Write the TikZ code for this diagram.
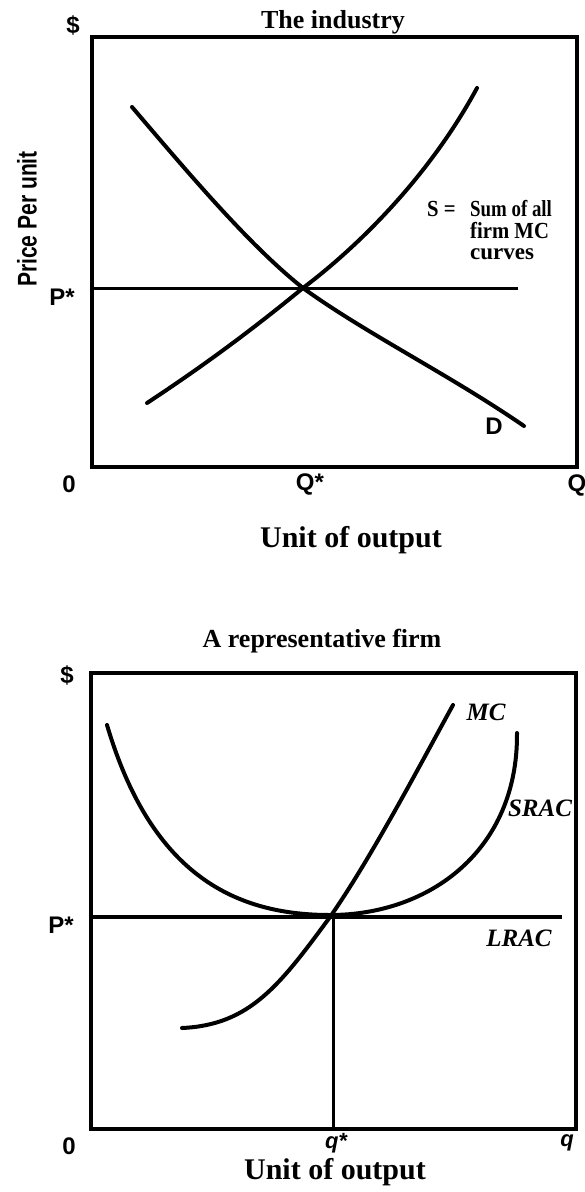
\documentclass[tikz,border=0pt]{standalone}
\usepackage{fontspec}
\setmainfont{Liberation Serif}
\newfontfamily\lsans{Liberation Sans}
\begin{document}
\begin{tikzpicture}[x=1pt,y=-1pt,
  frame/.style={line width=3.5pt, line join=miter},
  curve/.style={line width=4pt, line cap=round},
  hline/.style={line width=3pt},
  ttl/.style={font=\fontsize{26}{28}\selectfont\bfseries, anchor=base, inner sep=0pt},
  axlab/.style={font=\fontsize{30}{32}\selectfont\bfseries, anchor=base, inner sep=0pt},
  tick/.style={font=\lsans\bfseries\fontsize{24}{26}\selectfont, inner sep=0pt},
  itick/.style={font=\lsans\bfseries\itshape\fontsize{22}{24}\selectfont, inner sep=0pt},
  itl/.style={font=\fontsize{25}{27}\selectfont\bfseries\itshape, inner sep=0pt},
  slab/.style={font=\fontsize{23}{23}\selectfont\bfseries, anchor=base west, inner sep=0pt}]
\useasboundingbox[fill=white] (0,0) rectangle (585,1192);

% ---------------- top panel: the industry ----------------
\node[ttl] (title1) at (333,28) {The industry};
\node[tick] (dollar1) at (73,25) {\$};
\node[inner sep=0pt, rotate=90, font=\lsans\bfseries\fontsize{27}{29}\selectfont] (ylab) at (27,219) {\scalebox{0.78}[1]{Price Per unit}};
\node[tick] (pstar1) at (62,297) {P*};
\draw[frame] (92,37) rectangle (577,467);
\draw[hline] (92,288) -- (518,288);
% demand
\draw[curve] (132,107) .. controls (190,175) and (250,246) .. (303,288)
                       .. controls (365,333) and (450,375) .. (524,426);
% supply
\draw[curve] (147,403) .. controls (220,355) and (270,315) .. (303,288)
                       .. controls (360,245) and (430,175) .. (477,88);
\node[slab] (seq) at (427,216) {\scalebox{0.9}[1]{S =}};
\node[slab] (slabel) at (470,216) {\scalebox{0.82}[1]{Sum of all}};
\node[slab] (slabel2) at (470,238) {\scalebox{0.9}[1]{firm MC}};
\node[slab] (slabel3) at (470,259) {curves};
\node[tick] (dlab) at (494,426) {D};
\node[tick] (zero1) at (69,484) {0};
\node[tick] (qstar1) at (310,484) {Q*};
\node[tick] (q1) at (577,485) {Q};
\node[axlab] (unit1) at (351,547) {Unit of output};

% ---------------- bottom panel: representative firm ----------------
\node[ttl] (title2) at (322,647) {A representative firm};
\node[tick] (dollar2) at (67,675) {\$};
\draw[frame] (91,673) rectangle (576,1129);
\draw[line width=4pt] (92,917) -- (562,917);
\node[tick] (pstar2) at (61,925) {P*};
% SRAC
\draw[curve] (107,725) .. controls (150,870) and (230,915) .. (330,915)
                       .. controls (430,915) and (518,850) .. (517,733);
% MC
\draw[curve] (182,1028) .. controls (250,1025) and (280,985) .. (330,917)
                        .. controls (370,860) and (420,765) .. (453,705);
\draw[line width=3pt] (333,917) -- (333,1129);
\node[itl] (mclab) at (486,712) {MC};
\node[itl] (sraclab) at (540,808) {SRAC};
\node[itl] (lraclab) at (519,938) {LRAC};
\node[tick] (zero2) at (69,1146) {0};
\node[itick] (qstar2) at (336,1143) {q*};
\node[itick] (q2) at (567,1143) {q};
\node[axlab] (unit2) at (335,1179) {Unit of output};
\end{tikzpicture}
\end{document}
